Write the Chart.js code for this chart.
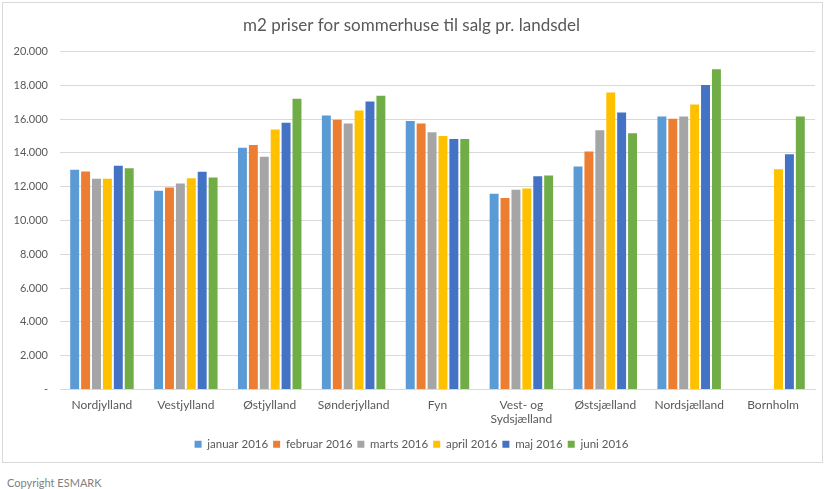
<!DOCTYPE html>
<html>
<head>
<meta charset="utf-8">
<script src="https://cdn.jsdelivr.net/npm/chart.js@4.4.0/dist/chart.umd.min.js"></script>
<style>
  body { margin: 0; background: #fff; font-family: Lato, sans-serif; }
  #boks { position: absolute; left: 2px; top: 2px; width: 819px; height: 459px; border: 1px solid #d9d9d9; }
  #copy { position: absolute; left: 7px; top: 476px; font-size: 11px; color: #7f7f7f; }
</style>
</head>
<body>
<div id="boks"><canvas id="grafico" width="819" height="459"></canvas></div>
<div id="copy">Copyright ESMARK</div>
<script>
const landsdele = ["Nordjylland", "Vestjylland", "Østjylland", "Sønderjylland", "Fyn",
  ["Vest- og", "Sydsjælland"], "Østsjælland", "Nordsjælland", "Bornholm"];

const maaneder = ["januar 2016", "februar 2016", "marts 2016", "april 2016", "maj 2016", "juni 2016"];

const januar  = [13000, 11760, 14300, 16210, 15880, 11580, 13190, 16150, null];
const februar = [12900, 11950, 14460, 15960, 15740, 11320, 14080, 16020, null];
const marts   = [12470, 12190, 13770, 15740, 15210, 11820, 15340, 16150, null];
const april   = [12470, 12500, 15380, 16510, 14990, 11890, 17570, 16860, 13020];
const maj     = [13240, 12880, 15780, 17040, 14810, 12620, 16390, 18010, 13920];
const juni    = [13080, 12540, 17200, 17380, 14810, 12660, 15150, 18950, 16150];

const farver = ["#5B9BD5", "#ED7D31", "#A5A5A5", "#FFC000", "#4472C4", "#70AD47"];
const serier = [januar, februar, marts, april, maj, juni];

const tekstFarve = "#595959";

new Chart(document.getElementById("grafico").getContext("2d"), {
  type: "bar",
  data: {
    labels: landsdele,
    datasets: serier.map((s, i) => ({
      label: maaneder[i],
      data: s,
      backgroundColor: farver[i],
      borderWidth: 0,
      barPercentage: 0.82,
      categoryPercentage: 0.78
    }))
  },
  options: {
    responsive: false,
    animation: false,
    layout: { padding: { left: 5, right: 7, top: 4, bottom: 2 } },
    plugins: {
      title: {
        display: true,
        text: "m2 priser for sommerhuse til salg pr. landsdel",
        color: tekstFarve,
        font: { family: "Lato", size: 17, weight: "normal" },
        padding: { top: 8, bottom: 16 }
      },
      legend: {
        position: "bottom",
        labels: {
          color: tekstFarve,
          font: { family: "Lato", size: 11.5 },
          boxWidth: 7,
          boxHeight: 7,
          padding: 5
        }
      },
      tooltip: { enabled: false }
    },
    scales: {
      x: {
        grid: { display: false },
        border: { color: "#d9d9d9" },
        ticks: { color: tekstFarve, font: { family: "Lato", size: 12, lineHeight: 1.17 }, maxRotation: 0, autoSkip: false, padding: 1 },
        afterFit: s => { s.height += 6; }
      },
      y: {
        min: 0,
        max: 20000,
        ticks: {
          stepSize: 2000,
          color: tekstFarve,
          font: { family: "Lato", size: 11 },
          padding: 12,
          callback: v => v === 0 ? "-" : v.toLocaleString("da-DK").replace(/,/g, ".")
        },
        grid: { color: "#d9d9d9", drawTicks: false },
        border: { display: false },
        afterFit: s => { s.width = 52; }
      }
    }
  }
});
</script>
</body>
</html>
